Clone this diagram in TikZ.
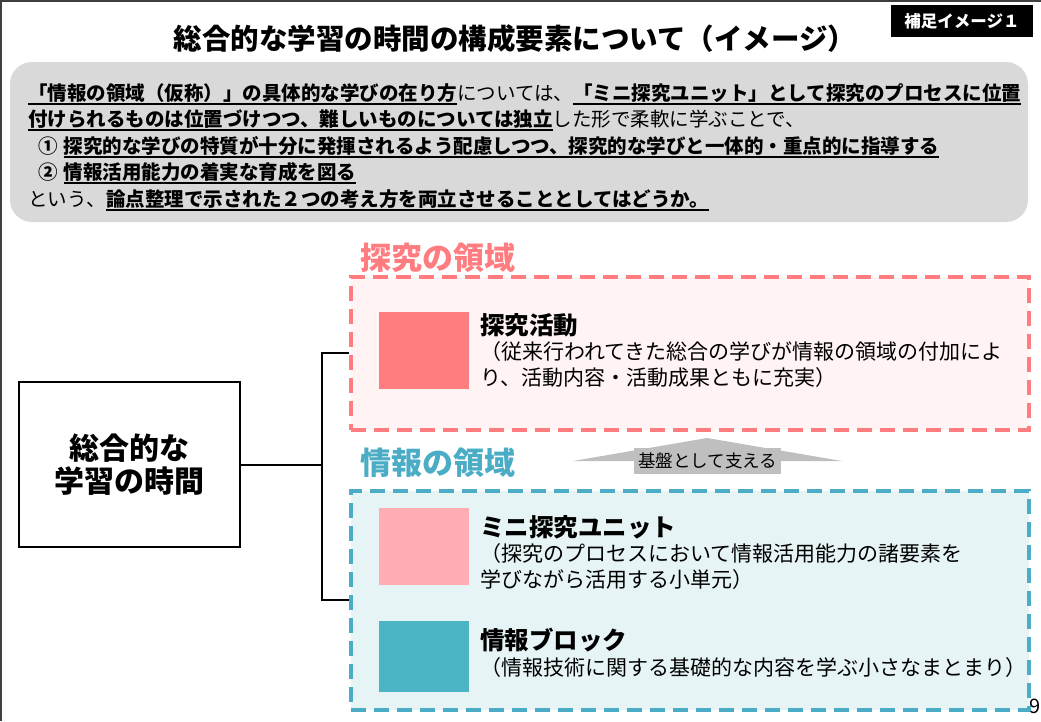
\documentclass[tikz,border=0pt]{standalone}
\usepackage{fontspec}
\setmainfont{Noto Sans CJK JP}
\usetikzlibrary{positioning}

\definecolor{framegray}{HTML}{3F3F3F}
\definecolor{boxgray}{HTML}{D9D9D9}
\definecolor{arrowgray}{HTML}{BFBFBF}
\definecolor{pinkline}{HTML}{FF7C80}
\definecolor{pinkbg}{HTML}{FFF3F4}
\definecolor{pinklight}{HTML}{FFACB4}
\definecolor{tealline}{HTML}{4BACC6}
\definecolor{tealbg}{HTML}{E6F4F6}
\definecolor{tealsq}{HTML}{4BB5C6}

\newcommand{\ulbar}[1]{\setbox0\hbox{#1}\rlap{\rule[-4.5pt]{\wd0}{2pt}}\box0}

\begin{document}
\begin{tikzpicture}[x=1pt, y=-1pt,
	area/.style={rectangle, line width=3.5pt, dash pattern=on 15pt off 8pt, minimum width=678pt, anchor=north west, inner sep=0},
	swatch/.style={rectangle, minimum width=90pt, anchor=north west, inner sep=0},
	areahead/.style={anchor=base west, inner sep=0, font=\bfseries\fontsize{31}{31}\selectfont},
	itemtitle/.style={anchor=base west, inner sep=0, font=\bfseries\fontsize{24.5}{24.5}\selectfont},
	desc/.style={anchor=base west, inner sep=0, align=left, font=\fontsize{21}{25.5}\selectfont},
	leadtxt/.style={anchor=base west, inner sep=0, font=\fontsize{19.5}{20}\selectfont}
	]

	\useasboundingbox (0,0) rectangle (1041,721);
	\draw [framegray, line width=4pt] (0,721) -- (0,0) -- (1041,0);

		\node (title) [anchor=base, inner sep=0, font=\bfseries\fontsize{28.5}{28.5}\selectfont] at (515,49) {総合的な学習の時間の構成要素について（イメージ）};
		\node (badge) [fill=black, text=white, minimum width=142pt, minimum height=32pt, inner sep=0, font=\bfseries\fontsize{16.5}{16.5}\selectfont] at (962,21) {補足イメージ１};

	\fill [boxgray, rounded corners=22pt] (10,62) rectangle (1028,222);
		\node (lead1) [leadtxt] at (28,100) {\ulbar{\bfseries 「情報の領域（仮称）」の具体的な学びの在り方}については、\ulbar{\bfseries 「ミニ探究ユニット」として探究のプロセスに位置}};
		\node (lead2) [leadtxt] at (28,126) {\ulbar{\bfseries 付けられるものは位置づけつつ、難しいものについては独立}した形で柔軟に学ぶことで、};
		\node (lead3) [leadtxt] at (38,153) {\bfseries ①\hspace{6pt}\ulbar{探究的な学びの特質が十分に発揮されるよう配慮しつつ、探究的な学びと一体的・重点的に指導する}};
		\node (lead4) [leadtxt] at (38,179) {\bfseries ②\hspace{6pt}\ulbar{情報活用能力の着実な育成を図る}};
		\node (lead5) [leadtxt] at (28,206) {という、\ulbar{\bfseries 論点整理で示された２つの考え方を両立させることとしてはどうか。}};

		\node (tankyu) [area, draw=pinkline, fill=pinkbg, minimum height=153pt] at (349,275) {};
		\node (joho) [area, draw=tealline, fill=tealbg, minimum height=219pt] at (349,489) {};
		\node (tankyuhead) [areahead, text=pinkline] at (360,269) {探究の領域};
		\node (johohead) [areahead, text=tealline] at (360,474) {情報の領域};

		\node (sqtankyu) [swatch, fill=pinkline, minimum height=77pt] at (379,312) {};
		\node (sqmini) [swatch, fill=pinklight, minimum height=77pt] at (379,508) {};
		\node (sqblock) [swatch, fill=tealsq, minimum height=71pt] at (379,621) {};

		\node (tankyutitle) [itemtitle] at (480,334) {探究活動};
		\node (tankyudesc) [desc] at (480,385) {（従来行われてきた総合の学びが情報の領域の付加によ\\り、活動内容・活動成果ともに充実）};
		\node (minititle) [itemtitle] at (480,536) {ミニ探究ユニット};
		\node (minidesc) [desc] at (480,587) {（探究のプロセスにおいて情報活用能力の諸要素を\\学びながら活用する小単元）};
		\node (blocktitle) [itemtitle] at (480,649) {情報ブロック};
		\node (blockdesc) [desc] at (480,675) {（情報技術に関する基礎的な内容を学ぶ小さなまとまり）};

	\fill [arrowgray] (573,461) -- (707,438) -- (842,461) -- cycle;
		\node (kiban) [fill=arrowgray, minimum width=147pt, minimum height=26pt, inner sep=0, font=\fontsize{17.5}{17.5}\selectfont] at (707.5,461) {基盤として支える};

		\node (sogo) [draw, line width=2pt, minimum width=221pt, minimum height=165pt, align=center, font=\bfseries\fontsize{30}{33}\selectfont] at (129.5,464.5) {総合的な\\学習の時間};
		\coordinate (fork) at (322,464.5);

	\draw [line width=2pt] (sogo.east) -- (fork);
	\draw [line width=2pt] (tankyu.west) -| (fork) |- (joho.west);

		\node (pageno) [anchor=base, inner sep=0, font=\fontsize{20}{20}\selectfont] at (1035,713) {9};

\end{tikzpicture}
\end{document}
